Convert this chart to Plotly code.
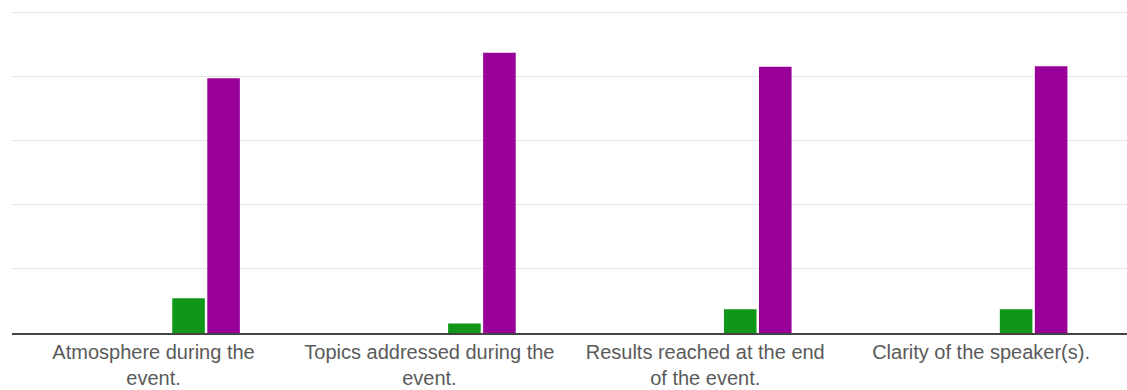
import plotly.graph_objects as go

categories = [
    "Atmosphere during the<br>event.",
    "Topics addressed during the<br>event.",
    "Results reached at the end<br>of the event.",
    "Clarity of the speaker(s).",
]
series_names = ["Very poor", "Poor", "Average", "Good", "Excellent"]
series_colors = ["#3366cc", "#dc3912", "#ff9900", "#109618", "#990099"]
very_poor = [0, 0, 0, 0]
poor = [0, 0, 0, 0]
average = [0, 0, 0, 0]
good = [5.4, 1.5, 3.7, 3.7]
excellent = [39.7, 43.7, 41.5, 41.6]
series_values = [very_poor, poor, average, good, excellent]

fig = go.Figure()
for name, color, vals in zip(series_names, series_colors, series_values):
    fig.add_trace(go.Bar(
        x=categories, y=vals, name=name,
        marker=dict(color=color, line=dict(width=0)),
    ))

fig.update_layout(
    width=1127, height=390,
    margin=dict(l=12, r=0, t=11, b=57),
    paper_bgcolor="white", plot_bgcolor="white",
    barmode="group", bargap=0.365, bargroupgap=0.07,
    showlegend=False,
    font=dict(family="Liberation Sans, Arial, sans-serif", size=20, color="#555555"),
)
fig.update_xaxes(
    range=[-0.513, 3.529],
    showgrid=False, showline=True, linecolor="#444444", linewidth=1.5,
    ticks="", tickfont=dict(size=20, color="#5a5a5a"),
)
fig.update_yaxes(
    range=[0, 50.2], tickvals=[10, 20, 30, 40, 50],
    showgrid=True, gridcolor="#e3e3e3", gridwidth=1,
    zeroline=False, showticklabels=False, ticks="",
)

fig.write_html("out.html")
